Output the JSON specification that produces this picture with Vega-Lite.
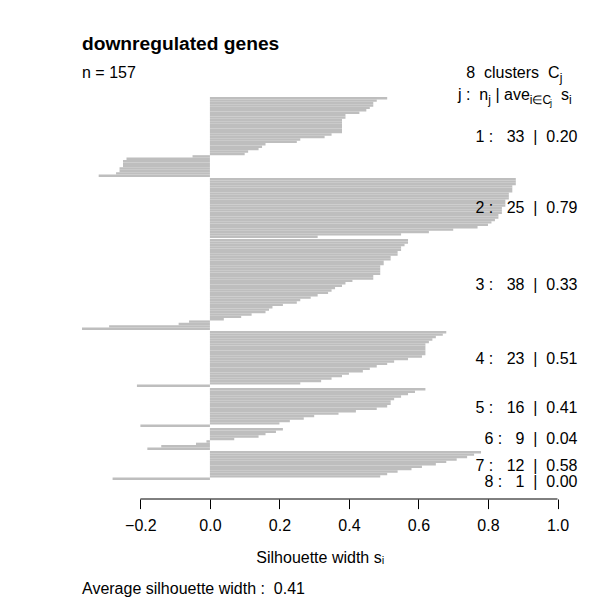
{
  "$schema": "https://vega.github.io/schema/vega-lite/v6.json",
  "autosize": {"type": "pad"},
  "padding": {"left": 82, "top": 35, "right": 0, "bottom": 0},
  "background": "white",
  "config": {"view": {"stroke": null}, "text": {"font": "Liberation Sans", "fontSize": 16, "color": "black"}},
  "datasets": {
    "lab": [
      {"cluster": 1, "n": 33, "ave": "0.20"},
      {"cluster": 2, "n": 25, "ave": "0.79"},
      {"cluster": 3, "n": 38, "ave": "0.33"},
      {"cluster": 4, "n": 23, "ave": "0.51"},
      {"cluster": 5, "n": 16, "ave": "0.41"},
      {"cluster": 6, "n": 9, "ave": "0.04"},
      {"cluster": 7, "n": 12, "ave": "0.58"},
      {"cluster": 8, "n": 1, "ave": "0.00"}
    ],
    "sil": [
      {"cluster":1,"rank":1,"s":0.51},{"cluster":1,"rank":2,"s":0.48},{"cluster":1,"rank":3,"s":0.47},{"cluster":1,"rank":4,"s":0.47},{"cluster":1,"rank":5,"s":0.46},{"cluster":1,"rank":6,"s":0.45},{"cluster":1,"rank":7,"s":0.43},{"cluster":1,"rank":8,"s":0.39},{"cluster":1,"rank":9,"s":0.39},{"cluster":1,"rank":10,"s":0.38},{"cluster":1,"rank":11,"s":0.38},{"cluster":1,"rank":12,"s":0.38},{"cluster":1,"rank":13,"s":0.38},{"cluster":1,"rank":14,"s":0.38},{"cluster":1,"rank":15,"s":0.38},{"cluster":1,"rank":16,"s":0.35},{"cluster":1,"rank":17,"s":0.33},{"cluster":1,"rank":18,"s":0.26},{"cluster":1,"rank":19,"s":0.25},{"cluster":1,"rank":20,"s":0.16},{"cluster":1,"rank":21,"s":0.15},{"cluster":1,"rank":22,"s":0.14},{"cluster":1,"rank":23,"s":0.11},{"cluster":1,"rank":24,"s":0.10},{"cluster":1,"rank":25,"s":-0.05},{"cluster":1,"rank":26,"s":-0.24},{"cluster":1,"rank":27,"s":-0.25},{"cluster":1,"rank":28,"s":-0.25},{"cluster":1,"rank":29,"s":-0.25},{"cluster":1,"rank":30,"s":-0.26},{"cluster":1,"rank":31,"s":-0.26},{"cluster":1,"rank":32,"s":-0.27},{"cluster":1,"rank":33,"s":-0.32},
      {"cluster":2,"rank":1,"s":0.88},{"cluster":2,"rank":2,"s":0.88},{"cluster":2,"rank":3,"s":0.88},{"cluster":2,"rank":4,"s":0.87},{"cluster":2,"rank":5,"s":0.87},{"cluster":2,"rank":6,"s":0.87},{"cluster":2,"rank":7,"s":0.86},{"cluster":2,"rank":8,"s":0.86},{"cluster":2,"rank":9,"s":0.86},{"cluster":2,"rank":10,"s":0.85},{"cluster":2,"rank":11,"s":0.85},{"cluster":2,"rank":12,"s":0.85},{"cluster":2,"rank":13,"s":0.84},{"cluster":2,"rank":14,"s":0.84},{"cluster":2,"rank":15,"s":0.84},{"cluster":2,"rank":16,"s":0.83},{"cluster":2,"rank":17,"s":0.83},{"cluster":2,"rank":18,"s":0.82},{"cluster":2,"rank":19,"s":0.81},{"cluster":2,"rank":20,"s":0.80},{"cluster":2,"rank":21,"s":0.77},{"cluster":2,"rank":22,"s":0.70},{"cluster":2,"rank":23,"s":0.63},{"cluster":2,"rank":24,"s":0.55},{"cluster":2,"rank":25,"s":0.31},
      {"cluster":3,"rank":1,"s":0.57},{"cluster":3,"rank":2,"s":0.57},{"cluster":3,"rank":3,"s":0.56},{"cluster":3,"rank":4,"s":0.55},{"cluster":3,"rank":5,"s":0.55},{"cluster":3,"rank":6,"s":0.54},{"cluster":3,"rank":7,"s":0.54},{"cluster":3,"rank":8,"s":0.52},{"cluster":3,"rank":9,"s":0.52},{"cluster":3,"rank":10,"s":0.50},{"cluster":3,"rank":11,"s":0.50},{"cluster":3,"rank":12,"s":0.49},{"cluster":3,"rank":13,"s":0.49},{"cluster":3,"rank":14,"s":0.49},{"cluster":3,"rank":15,"s":0.49},{"cluster":3,"rank":16,"s":0.47},{"cluster":3,"rank":17,"s":0.47},{"cluster":3,"rank":18,"s":0.41},{"cluster":3,"rank":19,"s":0.39},{"cluster":3,"rank":20,"s":0.38},{"cluster":3,"rank":21,"s":0.36},{"cluster":3,"rank":22,"s":0.35},{"cluster":3,"rank":23,"s":0.34},{"cluster":3,"rank":24,"s":0.31},{"cluster":3,"rank":25,"s":0.29},{"cluster":3,"rank":26,"s":0.26},{"cluster":3,"rank":27,"s":0.25},{"cluster":3,"rank":28,"s":0.21},{"cluster":3,"rank":29,"s":0.18},{"cluster":3,"rank":30,"s":0.17},{"cluster":3,"rank":31,"s":0.16},{"cluster":3,"rank":32,"s":0.12},{"cluster":3,"rank":33,"s":0.09},{"cluster":3,"rank":34,"s":0.04},{"cluster":3,"rank":35,"s":-0.06},{"cluster":3,"rank":36,"s":-0.09},{"cluster":3,"rank":37,"s":-0.29},{"cluster":3,"rank":38,"s":-0.368},
      {"cluster":4,"rank":1,"s":0.68},{"cluster":4,"rank":2,"s":0.67},{"cluster":4,"rank":3,"s":0.65},{"cluster":4,"rank":4,"s":0.64},{"cluster":4,"rank":5,"s":0.63},{"cluster":4,"rank":6,"s":0.62},{"cluster":4,"rank":7,"s":0.62},{"cluster":4,"rank":8,"s":0.62},{"cluster":4,"rank":9,"s":0.62},{"cluster":4,"rank":10,"s":0.62},{"cluster":4,"rank":11,"s":0.61},{"cluster":4,"rank":12,"s":0.57},{"cluster":4,"rank":13,"s":0.53},{"cluster":4,"rank":14,"s":0.51},{"cluster":4,"rank":15,"s":0.48},{"cluster":4,"rank":16,"s":0.46},{"cluster":4,"rank":17,"s":0.44},{"cluster":4,"rank":18,"s":0.40},{"cluster":4,"rank":19,"s":0.38},{"cluster":4,"rank":20,"s":0.35},{"cluster":4,"rank":21,"s":0.32},{"cluster":4,"rank":22,"s":0.26},{"cluster":4,"rank":23,"s":-0.21},
      {"cluster":5,"rank":1,"s":0.62},{"cluster":5,"rank":2,"s":0.59},{"cluster":5,"rank":3,"s":0.57},{"cluster":5,"rank":4,"s":0.55},{"cluster":5,"rank":5,"s":0.53},{"cluster":5,"rank":6,"s":0.52},{"cluster":5,"rank":7,"s":0.52},{"cluster":5,"rank":8,"s":0.51},{"cluster":5,"rank":9,"s":0.48},{"cluster":5,"rank":10,"s":0.42},{"cluster":5,"rank":11,"s":0.37},{"cluster":5,"rank":12,"s":0.30},{"cluster":5,"rank":13,"s":0.27},{"cluster":5,"rank":14,"s":0.23},{"cluster":5,"rank":15,"s":0.20},{"cluster":5,"rank":16,"s":-0.20},
      {"cluster":6,"rank":1,"s":0.21},{"cluster":6,"rank":2,"s":0.19},{"cluster":6,"rank":3,"s":0.16},{"cluster":6,"rank":4,"s":0.14},{"cluster":6,"rank":5,"s":0.07},{"cluster":6,"rank":6,"s":-0.01},{"cluster":6,"rank":7,"s":-0.04},{"cluster":6,"rank":8,"s":-0.14},{"cluster":6,"rank":9,"s":-0.18},
      {"cluster":7,"rank":1,"s":0.78},{"cluster":7,"rank":2,"s":0.76},{"cluster":7,"rank":3,"s":0.74},{"cluster":7,"rank":4,"s":0.71},{"cluster":7,"rank":5,"s":0.68},{"cluster":7,"rank":6,"s":0.65},{"cluster":7,"rank":7,"s":0.61},{"cluster":7,"rank":8,"s":0.58},{"cluster":7,"rank":9,"s":0.54},{"cluster":7,"rank":10,"s":0.51},{"cluster":7,"rank":11,"s":0.49},{"cluster":7,"rank":12,"s":-0.28},
      {"cluster":8,"rank":1,"s":0.0}
    ]
  },
  "vconcat": [
    {"width": 475.5, "height": 80, "layer": [
      {"data": {"name": "sil"}, "transform": [{"filter": "datum.cluster == 1"}], "mark": {"type": "bar", "color": "#bebebe"},
       "encoding": {"y": {"field": "rank", "type": "ordinal", "axis": null, "scale": {"paddingInner": 0, "paddingOuter": 0}}, "x": {"field": "s", "type": "quantitative", "axis": null, "scale": {"domain": [-0.368, 1], "nice": false}}}},
      {"data": {"name": "lab"}, "transform": [{"filter": "datum.cluster == 1"}, {"calculate": "datum.cluster + ' :\u00a0\u00a0\u00a0' + datum.n + '\u00a0\u00a0|\u00a0\u00a0' + datum.ave", "as": "label"}], "mark": {"type": "text", "align": "right", "baseline": "middle", "dx": 20}, "encoding": {"x": {"datum": 1}, "text": {"field": "label"}}},
      {"data": {"values": [{}]}, "mark": {"type": "text", "text": "downregulated genes", "align": "left", "baseline": "top", "dy": -102, "fontSize": 19.2, "fontWeight": "bold"}, "encoding": {"x": {"datum": -0.368}}},
      {"data": {"values": [{}]}, "mark": {"type": "text", "text": "n = 157", "align": "left", "baseline": "alphabetic", "dy": -59.5}, "encoding": {"x": {"datum": -0.368}}},
      {"data": {"values": [{}]}, "mark": {"type": "text", "text": "8\u00a0\u00a0clusters\u00a0\u00a0C", "align": "right", "baseline": "alphabetic", "dx": 2, "dy": -59.5}, "encoding": {"x": {"datum": 1}}},
      {"data": {"values": [{}]}, "mark": {"type": "text", "text": "j", "align": "left", "baseline": "alphabetic", "dx": 2.3, "dy": -55.5, "fontSize": 12}, "encoding": {"x": {"datum": 1}}},
      {"data": {"values": [{}]}, "mark": {"type": "text", "text": "j :\u00a0\u00a0n", "align": "left", "baseline": "alphabetic", "dx": -99.5, "dy": -37.5}, "encoding": {"x": {"datum": 1}}},
      {"data": {"values": [{}]}, "mark": {"type": "text", "text": "j", "align": "left", "baseline": "alphabetic", "dx": -69.25, "dy": -33.5, "fontSize": 12}, "encoding": {"x": {"datum": 1}}},
      {"data": {"values": [{}]}, "mark": {"type": "text", "text": "|\u00a0ave", "align": "left", "baseline": "alphabetic", "dx": -62.1, "dy": -37.5}, "encoding": {"x": {"datum": 1}}},
      {"data": {"values": [{}]}, "mark": {"type": "text", "text": "i\u2208C", "align": "left", "baseline": "alphabetic", "dx": -27.7, "dy": -33.5, "fontSize": 12}, "encoding": {"x": {"datum": 1}}},
      {"data": {"values": [{}]}, "mark": {"type": "text", "text": "j", "align": "left", "baseline": "alphabetic", "dx": -7.4, "dy": -31.1, "fontSize": 9}, "encoding": {"x": {"datum": 1}}},
      {"data": {"values": [{}]}, "mark": {"type": "text", "text": "s", "align": "left", "baseline": "alphabetic", "dx": 3.5, "dy": -37.5}, "encoding": {"x": {"datum": 1}}},
      {"data": {"values": [{}]}, "mark": {"type": "text", "text": "i", "align": "left", "baseline": "alphabetic", "dx": 11.5, "dy": -33.5, "fontSize": 12}, "encoding": {"x": {"datum": 1}}}
    ]},
    {"width": 475.5, "height": 60, "layer": [
      {"data": {"name": "sil"}, "transform": [{"filter": "datum.cluster == 2"}], "mark": {"type": "bar", "color": "#bebebe"},
       "encoding": {"y": {"field": "rank", "type": "ordinal", "axis": null, "scale": {"paddingInner": 0, "paddingOuter": 0}}, "x": {"field": "s", "type": "quantitative", "axis": null, "scale": {"domain": [-0.368, 1], "nice": false}}}},
      {"data": {"name": "lab"}, "transform": [{"filter": "datum.cluster == 2"}, {"calculate": "datum.cluster + ' :\u00a0\u00a0\u00a0' + datum.n + '\u00a0\u00a0|\u00a0\u00a0' + datum.ave", "as": "label"}], "mark": {"type": "text", "align": "right", "baseline": "middle", "dx": 20}, "encoding": {"x": {"datum": 1}, "text": {"field": "label"}}}
    ]},
    {"width": 475.5, "height": 91, "layer": [
      {"data": {"name": "sil"}, "transform": [{"filter": "datum.cluster == 3"}], "mark": {"type": "bar", "color": "#bebebe"},
       "encoding": {"y": {"field": "rank", "type": "ordinal", "axis": null, "scale": {"paddingInner": 0, "paddingOuter": 0}}, "x": {"field": "s", "type": "quantitative", "axis": null, "scale": {"domain": [-0.368, 1], "nice": false}}}},
      {"data": {"name": "lab"}, "transform": [{"filter": "datum.cluster == 3"}, {"calculate": "datum.cluster + ' :\u00a0\u00a0\u00a0' + datum.n + '\u00a0\u00a0|\u00a0\u00a0' + datum.ave", "as": "label"}], "mark": {"type": "text", "align": "right", "baseline": "middle", "dx": 20}, "encoding": {"x": {"datum": 1}, "text": {"field": "label"}}}
    ]},
    {"width": 475.5, "height": 56, "layer": [
      {"data": {"name": "sil"}, "transform": [{"filter": "datum.cluster == 4"}], "mark": {"type": "bar", "color": "#bebebe"},
       "encoding": {"y": {"field": "rank", "type": "ordinal", "axis": null, "scale": {"paddingInner": 0, "paddingOuter": 0}}, "x": {"field": "s", "type": "quantitative", "axis": null, "scale": {"domain": [-0.368, 1], "nice": false}}}},
      {"data": {"name": "lab"}, "transform": [{"filter": "datum.cluster == 4"}, {"calculate": "datum.cluster + ' :\u00a0\u00a0\u00a0' + datum.n + '\u00a0\u00a0|\u00a0\u00a0' + datum.ave", "as": "label"}], "mark": {"type": "text", "align": "right", "baseline": "middle", "dx": 20}, "encoding": {"x": {"datum": 1}, "text": {"field": "label"}}}
    ]},
    {"width": 475.5, "height": 39, "layer": [
      {"data": {"name": "sil"}, "transform": [{"filter": "datum.cluster == 5"}], "mark": {"type": "bar", "color": "#bebebe"},
       "encoding": {"y": {"field": "rank", "type": "ordinal", "axis": null, "scale": {"paddingInner": 0, "paddingOuter": 0}}, "x": {"field": "s", "type": "quantitative", "axis": null, "scale": {"domain": [-0.368, 1], "nice": false}}}},
      {"data": {"name": "lab"}, "transform": [{"filter": "datum.cluster == 5"}, {"calculate": "datum.cluster + ' :\u00a0\u00a0\u00a0' + datum.n + '\u00a0\u00a0|\u00a0\u00a0' + datum.ave", "as": "label"}], "mark": {"type": "text", "align": "right", "baseline": "middle", "dx": 20}, "encoding": {"x": {"datum": 1}, "text": {"field": "label"}}}
    ]},
    {"width": 475.5, "height": 22, "layer": [
      {"data": {"name": "sil"}, "transform": [{"filter": "datum.cluster == 6"}], "mark": {"type": "bar", "color": "#bebebe"},
       "encoding": {"y": {"field": "rank", "type": "ordinal", "axis": null, "scale": {"paddingInner": 0, "paddingOuter": 0}}, "x": {"field": "s", "type": "quantitative", "axis": null, "scale": {"domain": [-0.368, 1], "nice": false}}}},
      {"data": {"name": "lab"}, "transform": [{"filter": "datum.cluster == 6"}, {"calculate": "datum.cluster + ' :\u00a0\u00a0\u00a0' + datum.n + '\u00a0\u00a0|\u00a0\u00a0' + datum.ave", "as": "label"}], "mark": {"type": "text", "align": "right", "baseline": "middle", "dx": 20}, "encoding": {"x": {"datum": 1}, "text": {"field": "label"}}}
    ]},
    {"width": 475.5, "height": 29, "layer": [
      {"data": {"name": "sil"}, "transform": [{"filter": "datum.cluster == 7"}], "mark": {"type": "bar", "color": "#bebebe"},
       "encoding": {"y": {"field": "rank", "type": "ordinal", "axis": null, "scale": {"paddingInner": 0, "paddingOuter": 0}}, "x": {"field": "s", "type": "quantitative", "axis": null, "scale": {"domain": [-0.368, 1], "nice": false}}}},
      {"data": {"name": "lab"}, "transform": [{"filter": "datum.cluster == 7"}, {"calculate": "datum.cluster + ' :\u00a0\u00a0\u00a0' + datum.n + '\u00a0\u00a0|\u00a0\u00a0' + datum.ave", "as": "label"}], "mark": {"type": "text", "align": "right", "baseline": "middle", "dx": 20}, "encoding": {"x": {"datum": 1}, "text": {"field": "label"}}}
    ]},
    {"width": 475.5, "height": 2, "layer": [
      {"data": {"name": "sil"}, "transform": [{"filter": "datum.cluster == 8"}], "mark": {"type": "bar", "color": "#bebebe"},
       "encoding": {"y": {"field": "rank", "type": "ordinal", "axis": null, "scale": {"paddingInner": 0, "paddingOuter": 0}}, "x": {"field": "s", "type": "quantitative", "scale": {"domain": [-0.368, 1], "nice": false},
         "axis": {"orient": "bottom", "offset": 16, "domain": false, "grid": false, "values": [-0.2, 0, 0.2, 0.4, 0.6, 0.8, 1], "format": ".1f", "tickSize": 9.6, "tickColor": "black", "tickWidth": 1, "labelFont": "Liberation Sans", "labelFontSize": 16, "labelColor": "black", "labelPadding": 8.9, "labelFlush": false, "labelOverlap": false, "title": "Silhouette width s\u1d62", "titleFont": "Liberation Sans", "titleFontSize": 16, "titleFontWeight": "normal", "titleColor": "black", "titleBaseline": "middle", "titleY": 58.5}}}},
      {"data": {"name": "lab"}, "transform": [{"filter": "datum.cluster == 8"}, {"calculate": "datum.cluster + ' :\u00a0\u00a0\u00a0' + datum.n + '\u00a0\u00a0|\u00a0\u00a0' + datum.ave", "as": "label"}], "mark": {"type": "text", "align": "right", "baseline": "middle", "dx": 20}, "encoding": {"x": {"datum": 1}, "text": {"field": "label"}}},
      {"data": {"values": [{}]}, "mark": {"type": "rule", "color": "black", "strokeWidth": 1, "yOffset": 17}, "encoding": {"x": {"datum": -0.2}, "x2": {"datum": 1}}},
      {"data": {"values": [{}]}, "mark": {"type": "text", "text": "Average silhouette width :\u00a0\u00a00.41", "align": "left", "baseline": "middle", "dy": 107.25}, "encoding": {"x": {"datum": -0.368}}}
    ]}
  ],
  "spacing": 1,
  "bounds": "flush",
  "resolve": {"scale": {"x": "independent", "y": "independent"}}
}
